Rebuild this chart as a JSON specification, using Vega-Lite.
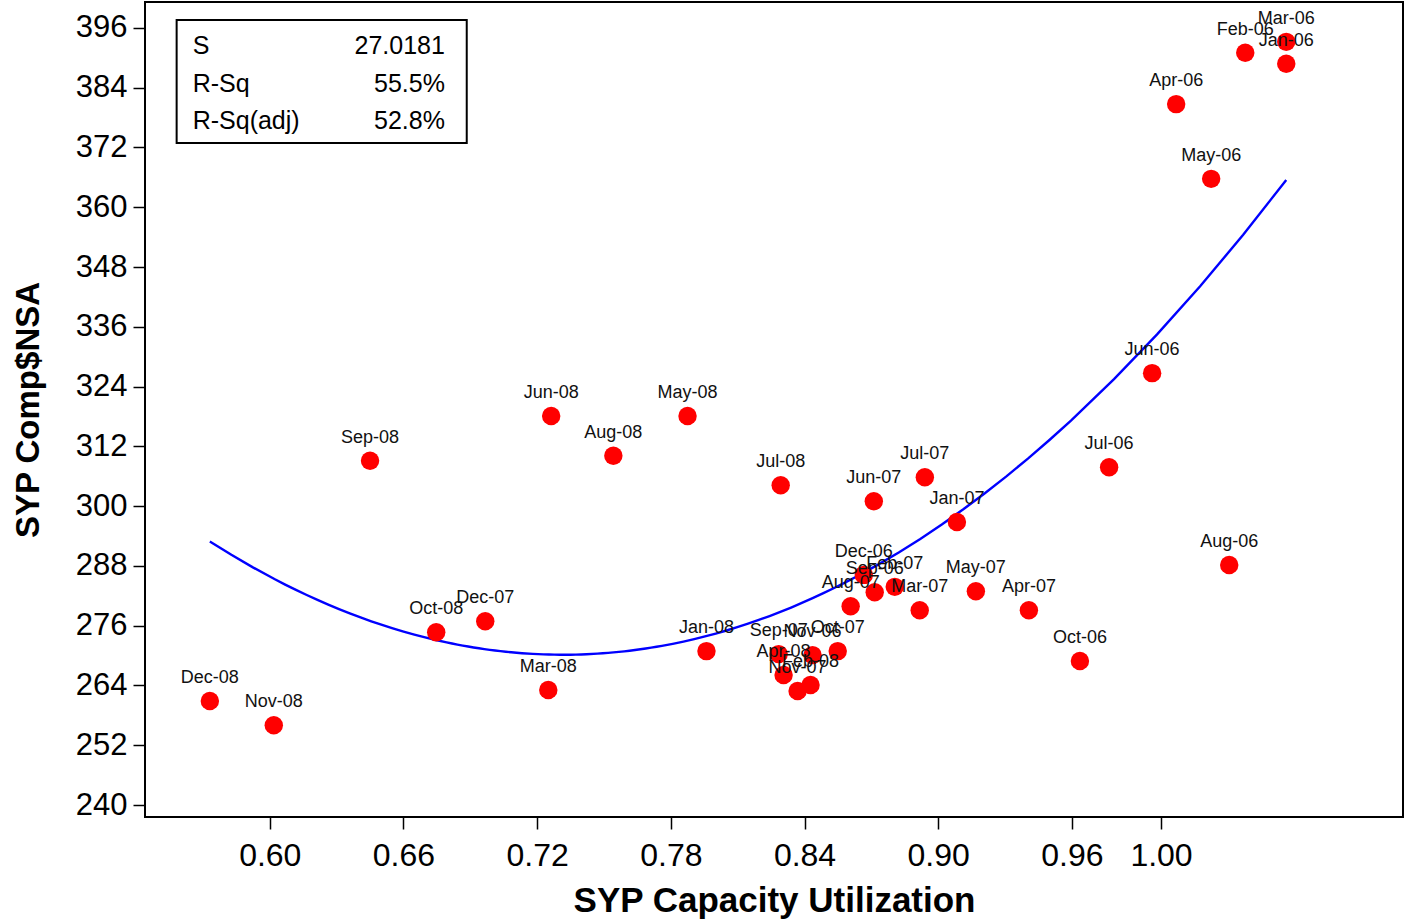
{
  "$schema": "https://vega.github.io/schema/vega-lite/v6.json",
  "width": 1258,
  "height": 815,
  "autosize": {"type": "none"},
  "padding": {"left": 145, "top": 2, "right": 3, "bottom": 104},
  "background": "white",
  "config": {
    "view": {"stroke": "black", "strokeWidth": 2},
    "font": "Liberation Sans",
    "axis": {"grid": false, "domain": false, "tickColor": "black", "tickWidth": 1.5, "tickSize": 12, "labelColor": "black", "titleColor": "black", "labelFont": "Liberation Sans", "titleFont": "Liberation Sans"}
  },
  "datasets": {
    "pts": [
      {"month": "Jan-06", "cu": 1.0562, "comp": 388.8},
      {"month": "Feb-06", "cu": 1.0378, "comp": 391.0},
      {"month": "Mar-06", "cu": 1.0562, "comp": 393.2},
      {"month": "Apr-06", "cu": 1.0068, "comp": 380.7},
      {"month": "May-06", "cu": 1.0225, "comp": 365.7},
      {"month": "Jun-06", "cu": 0.9960, "comp": 326.7},
      {"month": "Jul-06", "cu": 0.9767, "comp": 307.8},
      {"month": "Aug-06", "cu": 1.0306, "comp": 288.2},
      {"month": "Sep-06", "cu": 0.8715, "comp": 282.7},
      {"month": "Oct-06", "cu": 0.9636, "comp": 268.9},
      {"month": "Nov-06", "cu": 0.8436, "comp": 270.1},
      {"month": "Dec-06", "cu": 0.8666, "comp": 286.2},
      {"month": "Jan-07", "cu": 0.9084, "comp": 296.8},
      {"month": "Feb-07", "cu": 0.8805, "comp": 283.8},
      {"month": "Mar-07", "cu": 0.8917, "comp": 279.1},
      {"month": "Apr-07", "cu": 0.9407, "comp": 279.1},
      {"month": "May-07", "cu": 0.9169, "comp": 282.9},
      {"month": "Jun-07", "cu": 0.8711, "comp": 301.0},
      {"month": "Jul-07", "cu": 0.8940, "comp": 305.8},
      {"month": "Aug-07", "cu": 0.8607, "comp": 279.9},
      {"month": "Sep-07", "cu": 0.8284, "comp": 270.3},
      {"month": "Oct-07", "cu": 0.8549, "comp": 270.9},
      {"month": "Nov-07", "cu": 0.8369, "comp": 262.9},
      {"month": "Dec-07", "cu": 0.6967, "comp": 276.9},
      {"month": "Jan-08", "cu": 0.7960, "comp": 270.9},
      {"month": "Feb-08", "cu": 0.8427, "comp": 264.1},
      {"month": "Mar-08", "cu": 0.7250, "comp": 263.1},
      {"month": "Apr-08", "cu": 0.8306, "comp": 266.1},
      {"month": "May-08", "cu": 0.7875, "comp": 318.1},
      {"month": "Jun-08", "cu": 0.7263, "comp": 318.1},
      {"month": "Jul-08", "cu": 0.8293, "comp": 304.2},
      {"month": "Aug-08", "cu": 0.7542, "comp": 310.1},
      {"month": "Sep-08", "cu": 0.6450, "comp": 309.1},
      {"month": "Oct-08", "cu": 0.6747, "comp": 274.7},
      {"month": "Nov-08", "cu": 0.6018, "comp": 256.0},
      {"month": "Dec-08", "cu": 0.5731, "comp": 260.9}
    ],
    "box": [
      {"x1": 0.5582, "x2": 0.6884, "y1": 397.6, "y2": 372.9}
    ],
    "stats": [
      {"name": "S", "val": "27.0181", "lx": 0.5654, "rx": 0.6786, "ly": 392.4},
      {"name": "R-Sq", "val": "55.5%", "lx": 0.5654, "rx": 0.6786, "ly": 384.8},
      {"name": "R-Sq(adj)", "val": "52.8%", "lx": 0.5654, "rx": 0.6786, "ly": 377.3}
    ]
  },
  "layer": [
    {
      "data": {"name": "box"},
      "mark": {"type": "rect", "fill": "white", "stroke": "black", "strokeWidth": 2},
      "encoding": {
        "x": {"field": "x1", "type": "quantitative", "scale": {"domain": [0.544, 1.1086], "nice": false, "zero": false},
          "axis": {"values": [0.60, 0.66, 0.72, 0.78, 0.84, 0.90, 0.96, 1.00], "format": ".2f", "labelFontSize": 32, "labelPadding": 11, "title": "SYP Capacity Utilization", "titleFontSize": 35, "titleFontWeight": "bold", "titlePadding": 12}},
        "x2": {"field": "x2"},
        "y": {"field": "y1", "type": "quantitative", "scale": {"domain": [237.6, 401.2], "nice": false, "zero": false},
          "axis": {"values": [240, 252, 264, 276, 288, 300, 312, 324, 336, 348, 360, 372, 384, 396], "labelFontSize": 31, "labelPadding": 6, "title": "SYP Comp$NSA", "titleFontSize": 33, "titleFontWeight": "bold", "titlePadding": 30}},
        "y2": {"field": "y2"}
      }
    },
    {
      "data": {"name": "stats"},
      "mark": {"type": "text", "align": "left", "baseline": "middle", "fontSize": 25, "color": "black"},
      "encoding": {
        "x": {"field": "lx", "type": "quantitative"},
        "y": {"field": "ly", "type": "quantitative"},
        "text": {"field": "name"}
      }
    },
    {
      "data": {"name": "stats"},
      "mark": {"type": "text", "align": "right", "baseline": "middle", "fontSize": 25, "color": "black"},
      "encoding": {
        "x": {"field": "rx", "type": "quantitative"},
        "y": {"field": "ly", "type": "quantitative"},
        "text": {"field": "val"}
      }
    },
    {
      "data": {"name": "pts"},
      "transform": [{"regression": "comp", "on": "cu", "method": "poly", "order": 2}],
      "mark": {"type": "line", "color": "#0000ff", "strokeWidth": 2.4},
      "encoding": {
        "x": {"field": "cu", "type": "quantitative"},
        "y": {"field": "comp", "type": "quantitative"}
      }
    },
    {
      "data": {"name": "pts"},
      "mark": {"type": "circle", "color": "#ff0000", "size": 340, "opacity": 1},
      "encoding": {
        "x": {"field": "cu", "type": "quantitative"},
        "y": {"field": "comp", "type": "quantitative"}
      }
    },
    {
      "data": {"name": "pts"},
      "mark": {"type": "text", "dy": -23, "fontSize": 18, "color": "#111111", "font": "Liberation Sans"},
      "encoding": {
        "x": {"field": "cu", "type": "quantitative"},
        "y": {"field": "comp", "type": "quantitative"},
        "text": {"field": "month"}
      }
    }
  ]
}
